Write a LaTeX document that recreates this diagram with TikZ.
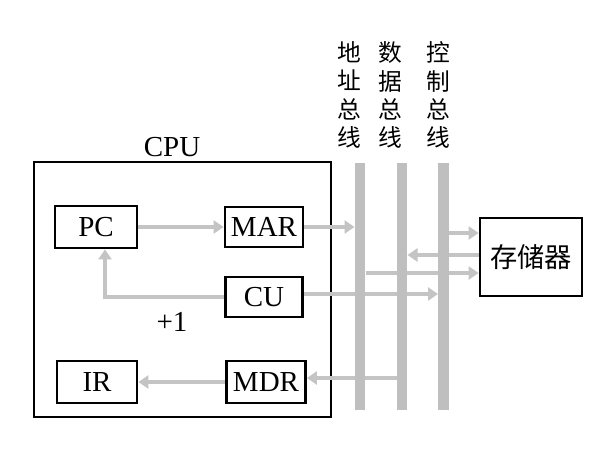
\documentclass[tikz,border=0pt]{standalone}
\usepackage{fontspec}
\setmainfont{Liberation Serif}
\newfontfamily\cjk{Noto Sans CJK SC}
\usetikzlibrary{arrows.meta,calc}

\begin{document}
\begin{tikzpicture}[x=0.02cm,y=-0.02cm,
    unit/.style={draw,line width=1.6pt,inner sep=0pt,font=\fontsize{16.5}{18}\selectfont},
    bus/.style={fill=black!25,inner sep=0pt,minimum width=0.21cm,minimum height=4.94cm},
    flow/.style={draw=black!23,line width=2.8pt,-{Triangle[width=0.26cm,length=0.2cm]}},
    buslabel/.style={align=center,inner sep=0pt,font=\cjk\fontsize{13.5}{16}\selectfont}]
    \useasboundingbox (0,0) rectangle (604,462);
    % cpu frame
    \draw[line width=1.6pt] (34,162) rectangle (331,417);
    \node (cpu) at (172,147) {\fontsize{16.5}{18}\selectfont CPU};
    % registers and control unit
    \node[unit,minimum width=1.64cm,minimum height=0.84cm] (PC) at (96,227) {PC};
    \node[unit,minimum width=1.56cm,minimum height=0.80cm] (MAR) at (264,227) {MAR};
    \node[unit,minimum width=1.54cm,minimum height=0.80cm] (CU) at (264,297) {CU};
    \node[unit,minimum width=1.60cm,minimum height=0.84cm] (IR) at (97,382) {IR};
    \node[unit,minimum width=1.58cm,minimum height=0.84cm] (MDR) at (266,382) {MDR};
    \node at (172,322) {\fontsize{16.5}{18}\selectfont +1};
    % memory
    \node[unit,minimum width=2.04cm,minimum height=1.56cm,font=\cjk\fontsize{15.5}{18}\selectfont] (mem) at (531,257) {存储器};
    % bus edges
    \coordinate (abW) at (354.5,0);
    \coordinate (abE) at (365.5,0);
    \coordinate (dbW) at (396.5,0);
    \coordinate (dbE) at (407.5,0);
    \coordinate (cbW) at (438,0);
    \coordinate (cbE) at (449,0);
    % paths inside the cpu
    \draw[flow] (PC.east) -- (MAR.west);
    \draw[flow] (CU.west) -| ($(PC.south)+(9,0)$);
    \draw[flow] (MDR.west) -- (IR.east);
    % paths to and from the buses (drawn below them)
    \draw[flow] (MAR.east) -- (abW |- MAR.east);
    \draw[flow] (CU.east |- 0,294) -- (cbW |- 0,294);
    \draw[flow] (dbW |- 0,378) -- (MDR.east |- 0,378);
    \draw[flow] (abE |- 0,273) -- (mem.west |- 0,273);
    \draw[flow] (mem.west |- 0,255) -- (dbE |- 0,255);
    \draw[flow] (cbE |- 0,233) -- (mem.west |- 0,233);
    % the three buses
    \node[bus] (abus) at (360,286.5) {};
    \node[bus] (dbus) at (402,286.5) {};
    \node[bus] (cbus) at (443.5,286.5) {};
    % bus names
    \node[buslabel] (abname) at (349,95) {地\\址\\总\\线};
    \node[buslabel] (dbname) at (390,95) {数\\据\\总\\线};
    \node[buslabel] (cbname) at (438.5,95) {控\\制\\总\\线};
\end{tikzpicture}
\end{document}
